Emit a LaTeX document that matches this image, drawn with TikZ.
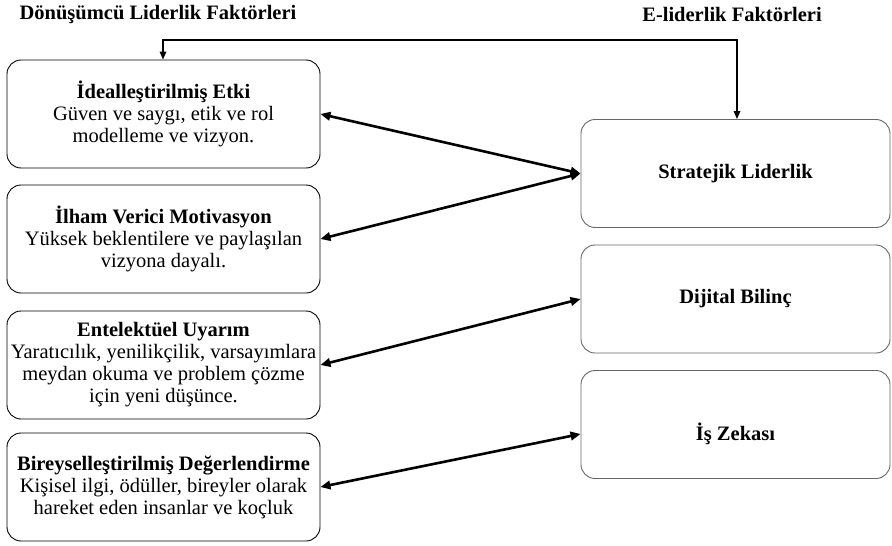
\documentclass[tikz,border=0pt]{standalone}
\usepackage{fontspec}
\setmainfont{Liberation Serif}
\usetikzlibrary{arrows.meta}

\tikzset{
  lbox/.style={draw=black, line width=0.9pt, rounded corners=14pt,
    minimum width=313pt, minimum height=108pt, inner sep=0pt,
    align=center, font=\fontsize{20.5}{22}\selectfont},
  rbox/.style={draw=black!60, line width=0.9pt, rounded corners=14pt,
    minimum width=309pt, minimum height=108pt, inner sep=0pt,
    align=center, font=\fontsize{20.5}{22}\selectfont\bfseries},
  head/.style={font=\fontsize{20.5}{22}\selectfont\bfseries},
  link/.style={{Triangle[length=10pt,width=8.5pt]}-{Triangle[length=10pt,width=8.5pt]},
    line width=2.6pt},
  feed/.style={{Triangle[length=8pt,width=6.5pt]}-{Triangle[length=8pt,width=6.5pt]},
    line width=1.6pt}
}

\begin{document}
\begin{tikzpicture}[x=1pt,y=-1pt]
  \useasboundingbox (0,0) rectangle (892,546);

  % headings
  \node[head] (dtitle) at (158,15) {Dönüşümcü Liderlik Faktörleri};
  \node[head] (etitle) at (732,14) {E-liderlik Faktörleri};

  % transformational factors
  \node[lbox] (ideal) at (163.5,114) {\textbf{İdealleştirilmiş Etki}\\Güven ve saygı, etik ve rol\\modelleme ve vizyon.};
  \node[lbox] (ilham) at (163.5,239) {\textbf{İlham Verici Motivasyon}\\Yüksek beklentilere ve paylaşılan\\vizyona dayalı.};
  \node[lbox] (entel) at (163.5,365) {\textbf{Entelektüel Uyarım}\\Yaratıcılık, yenilikçilik, varsayımlara\\meydan okuma ve problem çözme\\için yeni düşünce.};
  \node[lbox] (birey) at (163.5,487) {\textbf{Bireyselleştirilmiş Değerlendirme}\\Kişisel ilgi, ödüller, bireyler olarak\\hareket eden insanlar ve koçluk};

  % e-leadership factors
  \node[rbox] (stra) at (735.5,173.5) {Stratejik Liderlik};
  \node[rbox] (dijit) at (735.5,299) {Dijital Bilinç};
  \node[rbox] (zeka) at (735.5,424.5) {};
  \node[head] (isz) at (735.5,434) {İş Zekası};

  % connections
  \coordinate (tl) at (163,40);
  \coordinate (tr) at (737,40);
  \draw[feed] (tl |- ideal.north) -- (tl) -- (tr) -- (tr |- stra.north);

  \draw[link] (ideal.east) -- (stra.west);
  \draw[link] (ilham.east) -- (stra.west);
  \draw[link] (entel.east) -- (dijit.west);
  \draw[link] (birey.east) -- (zeka.west |- isz);
\end{tikzpicture}
\end{document}
